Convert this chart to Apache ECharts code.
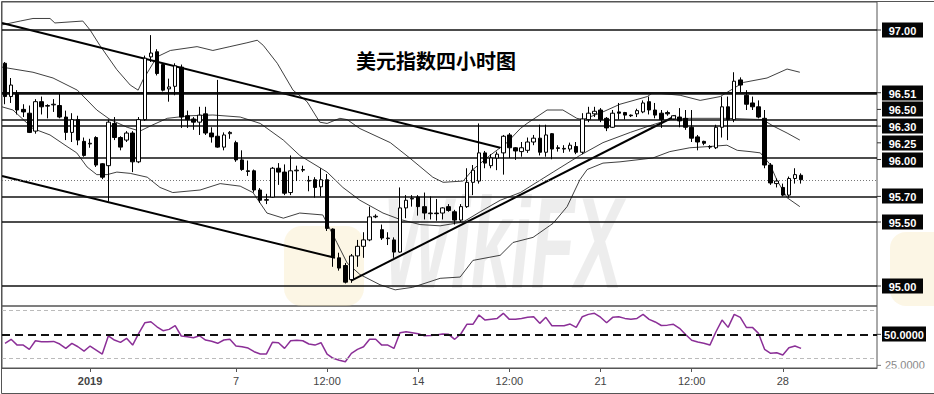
<!DOCTYPE html>
<html><head><meta charset="utf-8">
<script src="https://cdn.jsdelivr.net/npm/echarts@6/dist/echarts.min.js"></script>
<style>html,body{margin:0;padding:0;background:#fff;}#c{width:934px;height:394px;}</style>
</head><body><div id="c"></div>
<script>
// ---------- data ----------
const title = '美元指数四小时图';
const opens  = [96.74,96.48,96.50,96.38,96.35,96.21,96.44,96.405,96.415,96.41,96.32,96.20,96.30,96.13,96.11,96.16,95.955,95.94,96.27,96.16,96.14,96.195,95.97,96.30,96.79,96.83,96.73,96.54,96.56,96.71,96.33,96.305,96.28,96.345,96.195,96.17,96.085,96.19,96.12,95.985,95.90,95.90,95.75,95.67,95.695,95.92,95.89,95.73,95.90,95.905,95.82,95.83,95.775,95.83,95.445,95.22,95.16,95.05,95.235,95.31,95.36,95.54,95.44,95.37,95.36,95.265,95.61,95.68,95.695,95.62,95.565,95.57,95.57,95.62,95.58,95.515,95.62,95.81,95.82,96.04,95.94,96.00,96.04,96.18,96.08,96.05,96.06,96.125,96.155,96.045,96.19,96.08,96.07,96.07,96.09,96.045,96.30,96.345,96.375,96.31,96.24,96.36,96.355,96.335,96.345,96.36,96.44,96.375,96.35,96.355,96.305,96.32,96.31,96.24,96.165,96.13,96.09,96.08,96.24,96.40,96.30,96.61,96.49,96.43,96.40,96.31,95.945,95.80,95.77,95.71,95.84,95.865];
const closes = [96.48,96.57,96.375,96.36,96.20,96.44,96.40,96.41,96.42,96.32,96.20,96.30,96.14,96.02,96.115,95.945,95.85,96.28,96.16,96.085,96.195,95.97,96.30,96.78,96.82,96.66,96.53,96.555,96.72,96.32,96.30,96.28,96.335,96.195,96.165,96.085,96.18,96.20,95.985,95.91,95.895,95.75,95.67,95.675,95.92,95.89,95.725,95.90,95.905,95.91,95.825,95.77,95.83,95.45,95.23,95.14,95.03,95.235,95.31,95.36,95.54,95.545,95.375,95.375,95.265,95.61,95.67,95.685,95.62,95.57,95.57,95.565,95.61,95.59,95.515,95.62,95.81,95.905,96.04,95.96,96.00,96.03,96.17,96.08,96.055,96.08,96.125,96.155,96.045,96.18,96.07,96.075,96.075,96.10,96.045,96.305,96.35,96.365,96.30,96.235,96.35,96.35,96.335,96.33,96.37,96.43,96.375,96.335,96.30,96.345,96.33,96.29,96.24,96.155,96.125,96.115,96.085,96.24,96.40,96.30,96.60,96.57,96.42,96.40,96.32,95.945,95.805,95.82,95.71,95.84,95.87,95.83];
const lows   = [96.42,96.43,96.34,96.32,96.195,96.19,96.34,96.31,96.36,96.31,96.14,96.125,96.10,96.01,96.08,95.93,95.835,95.66,96.14,96.06,96.125,95.89,95.96,96.29,96.75,96.645,96.52,96.44,96.49,96.235,96.235,96.22,96.18,96.18,96.12,96.08,96.06,96.15,95.97,95.90,95.86,95.73,95.65,95.64,95.69,95.79,95.71,95.71,95.82,95.89,95.74,95.69,95.70,95.43,95.15,95.12,95.02,95.025,95.15,95.22,95.35,95.53,95.36,95.32,95.22,95.26,95.53,95.62,95.55,95.52,95.52,95.51,95.52,95.58,95.48,95.50,95.61,95.71,95.80,95.92,95.92,95.905,95.87,96.00,95.985,96.01,96.04,96.10,96.02,96.01,95.99,96.05,96.04,96.05,96.03,96.03,96.28,96.32,96.28,96.21,96.235,96.30,96.30,96.32,96.32,96.35,96.34,96.31,96.235,96.33,96.30,96.24,96.22,96.125,96.06,96.10,96.07,96.07,96.16,96.14,96.28,96.515,96.375,96.375,96.31,95.92,95.79,95.77,95.70,95.69,95.80,95.80];
const highs  = [96.75,96.625,96.53,96.42,96.41,96.46,96.48,96.42,96.46,96.50,96.37,96.35,96.33,96.16,96.15,96.17,95.96,96.30,96.32,96.17,96.21,96.21,96.32,96.80,96.96,96.85,96.74,96.62,96.74,96.73,96.37,96.32,96.40,96.40,96.24,96.61,96.20,96.21,96.135,96.06,95.98,95.91,95.765,95.72,95.93,95.96,95.95,96.02,95.94,95.94,95.86,95.85,95.92,95.875,95.45,95.26,95.18,95.25,95.36,95.42,95.62,95.56,95.48,95.42,95.38,95.77,95.71,95.71,95.71,95.73,95.70,95.68,95.615,95.64,95.595,95.64,95.92,95.945,96.27,96.055,96.03,96.05,96.18,96.195,96.085,96.125,96.16,96.18,96.26,96.26,96.195,96.10,96.10,96.12,96.125,96.35,96.40,96.40,96.39,96.32,96.375,96.43,96.36,96.34,96.385,96.45,96.48,96.43,96.375,96.37,96.335,96.39,96.375,96.375,96.18,96.135,96.10,96.26,96.48,96.48,96.67,96.63,96.53,96.48,96.45,96.375,95.96,95.84,95.80,95.855,95.92,95.88];
const rsi = [42.4,45.8,40.9,40.9,37.3,44.6,43.7,43.8,44.0,41.8,38.1,42.4,39.5,35.8,40.1,36.7,33.3,48.6,45.2,43.2,46.6,40.9,50.8,59.8,60.7,56.4,53.1,54.2,57.3,48.6,48.0,47.1,48.8,45.2,44.1,42.4,45.2,45.8,40.1,39.5,38.4,35.3,33.3,33.3,43.2,42.9,38.1,44.6,45.0,44.6,41.8,40.9,42.9,33.3,29.7,28.0,26.8,33.9,37.3,39.5,45.8,45.8,40.9,40.9,38.1,51.4,52.2,51.4,50.5,48.8,49.0,49.4,50.3,50.0,45.8,50.3,58.5,58.5,66.4,62.1,62.8,63.5,67.8,62.7,62.7,63.5,64.4,64.9,59.3,64.4,57.3,57.3,57.3,58.7,55.9,64.9,66.9,67.8,64.5,59.8,64.4,64.9,63.5,62.7,63.5,66.9,62.7,60.5,57.5,57.8,58.5,55.1,49.9,45.0,43.5,42.5,40.9,52.2,62.1,55.9,66.9,64.4,55.9,55.9,50.8,37.3,33.9,34.4,32.5,38.6,40.1,38.1];
// Bollinger bands as [candle index, price]
const upperBand = [[-0.5,97.04],[2.5,97.07],[4.6,97.09],[7.4,97.09],[8.2,97.055],[12.8,97.07],[14.0,97.00],[15.6,96.88],[18.4,96.69],[20.6,96.57],[21.9,96.53],[22.7,96.61],[25.0,96.79],[27.2,96.84],[31.6,96.87],[34.2,96.84],[37.0,96.87],[39.8,96.90],[41.5,96.92],[42.5,96.88],[44.8,96.74],[47.4,96.53],[49.7,96.44],[51.8,96.28],[53.0,96.27],[55.1,96.31],[56.3,96.30],[58.4,96.23],[63.4,96.12],[66.6,96.00],[70.4,95.85],[72.1,95.81],[75.4,95.82],[77.0,95.91],[79.8,96.02],[82.6,96.12],[84.8,96.23],[85.9,96.27],[89.2,96.375],[91.8,96.375],[94.1,96.31],[95.1,96.30],[98.4,96.36],[101.2,96.42],[105.7,96.48],[106.6,96.51],[111.1,96.49],[114.4,96.45],[117.7,96.48],[121.5,96.59],[125.4,96.625],[128.7,96.695],[130.8,96.67]];
const middleBand = [[-0.5,96.71],[4.6,96.67],[7.9,96.625],[11.9,96.53],[15.1,96.375],[17.3,96.30],[20.1,96.24],[22.2,96.21],[23.9,96.25],[26.7,96.31],[30.4,96.33],[34.2,96.336],[38.7,96.32],[42.0,96.27],[45.8,96.14],[48.5,96.02],[53.0,95.89],[55.6,95.77],[58.4,95.67],[62.2,95.57],[65.0,95.52],[68.3,95.48],[71.6,95.47],[75.4,95.50],[78.2,95.58],[81.5,95.67],[84.8,95.73],[90.2,95.89],[94.6,96.02],[98.4,96.12],[102.9,96.20],[106.6,96.26],[109.4,96.30],[112.7,96.31],[118.8,96.31],[124.7,96.30],[126.4,96.25],[128.7,96.195],[130.8,96.14]];
const lowerBand = [[-0.5,96.40],[1.3,96.375],[3.0,96.30],[4.6,96.23],[7.4,96.18],[10.2,96.09],[11.8,96.04],[13.5,95.93],[15.1,95.87],[16.8,95.87],[18.4,95.89],[20.6,95.88],[23.4,95.85],[25.5,95.77],[27.6,95.73],[32.1,95.75],[35.4,95.80],[38.7,95.78],[40.8,95.73],[43.1,95.57],[45.8,95.53],[48.5,95.57],[52.3,95.555],[54.6,95.34],[56.3,95.18],[58.4,95.09],[61.7,95.01],[64.2,94.97],[67.1,94.99],[71.6,95.06],[74.9,95.07],[77.0,95.20],[81.5,95.24],[83.6,95.34],[86.9,95.38],[90.2,95.49],[92.5,95.62],[94.6,95.83],[95.8,95.91],[98.4,95.96],[101.2,95.97],[106.6,96.00],[109.4,96.05],[112.7,96.08],[116.0,96.09],[118.8,96.10],[120.5,96.06],[122.6,96.05],[124.3,96.04],[125.9,95.95],[127.0,95.83],[128.7,95.69],[130.8,95.62]];
// trend lines: end points [candle index, price]
const resistanceLine = [[-0.5,97.055],[81.5,96.08]];
const lowerChannelLine = [[-0.5,95.86],[54.3,95.22]];
const supportLine = [[56.9,95.04],[110.4,96.33]];
// horizontal levels & labels
const levelLabels = ['97.00','96.51','96.50','96.30','96.25','96.00','95.70','95.50','95.00'];
const levelValues = [97.00,96.51,96.50,96.30,96.25,96.00,95.70,95.50,95.00];
const lastPrice = 95.83;
const rsiLevels = [70, 50, 30];
const rsiLabelMain = '50.0000';
const rsiLabelLow = '25.0000';
const xTickIdx  = [14,38,53,68,83,98,113,128];
const xTickText = ['2019','7','12:00','14','12:00','21','12:00','28'];
const SLOTS = 144;

// ---------- chart ----------
const cats = Array.from({length: SLOTS}, (_, i) => String(i));
const candleData = cats.map((_, i) => i < opens.length ? [opens[i], closes[i], lows[i], highs[i]] : '-');
const rsiData = cats.map((_, i) => i < rsi.length ? rsi[i] : '-');
const tickSet = new Set(xTickIdx);

const el = document.getElementById('c');
const chart = echarts.init(el, null, {renderer: 'svg'});
const thin = (data) => ({type: 'line', xAxisIndex: 1, yAxisIndex: 0, data, symbol: 'none', silent: true,
  lineStyle: {color: '#2a2a2a', width: 0.9}, z: 3});
const thick = (data) => ({type: 'line', xAxisIndex: 1, yAxisIndex: 0, data, symbol: 'none', silent: true,
  lineStyle: {color: '#000', width: 2}, z: 4});

const option = {
  animation: false,
  backgroundColor: '#fff',
  grid: [
    {left: 2, top: 2, width: 875, height: 304, show: true, borderColor: '#555', borderWidth: 1},
    {left: 2, top: 306, width: 875, height: 62, show: true, borderColor: '#555', borderWidth: 1}
  ],
  xAxis: [
    {type: 'category', gridIndex: 0, data: cats, show: false},
    {type: 'value', gridIndex: 0, min: -0.5, max: SLOTS - 0.5, show: false},
    {type: 'category', gridIndex: 1, data: cats,
      axisLine: {show: true, lineStyle: {color: '#555'}},
      axisTick: {show: true, alignWithLabel: true, length: 4, interval: (i) => tickSet.has(i), lineStyle: {color: '#555'}},
      axisLabel: {interval: (i) => tickSet.has(i), margin: 7, color: '#444', fontSize: 11,
        fontFamily: '"Liberation Sans", Arial, sans-serif',
        formatter: (v, i) => { const k = xTickIdx.indexOf(+v); return k === 0 ? '{b|' + xTickText[k] + '}' : (k >= 0 ? xTickText[k] : ''); },
        rich: {b: {fontWeight: 'bold', fontSize: 11, color: '#444', fontFamily: '"Liberation Sans", Arial, sans-serif'}}},
      splitLine: {show: false}}
  ],
  yAxis: [
    {type: 'value', gridIndex: 0, min: 94.84375, max: 97.21875, show: false, splitLine: {show: false}},
    {type: 'value', gridIndex: 1, min: 21.5, max: 74, show: false, splitLine: {show: false}}
  ],
  series: [
    {type: 'candlestick', xAxisIndex: 0, yAxisIndex: 0, data: candleData, barWidth: 4, z: 5,
      itemStyle: {color: '#fff', color0: '#000', borderColor: '#000', borderColor0: '#000', borderWidth: 1},
      markLine: {silent: true, symbol: 'none', label: {show: false}, animation: false,
        data: levelValues.map(v => ({yAxis: v, lineStyle: {color: '#111', width: v === 96.51 ? 2.2 : 1.6, type: 'solid'}}))
          .concat([{yAxis: lastPrice, lineStyle: {color: '#777', width: 1, type: [1, 2]}}])}
    },
    thin(upperBand), thin(middleBand), thin(lowerBand),
    thick(resistanceLine), thick(lowerChannelLine), thick(supportLine),
    {type: 'line', xAxisIndex: 2, yAxisIndex: 1, data: rsiData, symbol: 'none', silent: true,
      lineStyle: {color: '#8b2f97', width: 1.5}, z: 4,
      markLine: {silent: true, symbol: 'none', label: {show: false}, animation: false,
        data: rsiLevels.map(v => v === 50
          ? {yAxis: v, lineStyle: {color: '#111', width: 2, type: [8, 5]}}
          : {yAxis: v, lineStyle: {color: '#bbb', width: 1, type: [4, 3]}})}
    }
  ]
};
chart.setOption(option);

// ---------- right-hand labels & decorations ----------
const FONT = 'bold 11px "Liberation Sans", Arial, sans-serif';
const gfx = [];
function tag(y, text, w) {
  gfx.push({type: 'line', shape: {x1: 877, y1: y, x2: 881, y2: y}, style: {stroke: '#333', lineWidth: 1}, z: 10});
  gfx.push({type: 'rect', shape: {x: 882, y: Math.round(y) - 7.5, width: w, height: 15}, style: {fill: '#050505'}, z: 10});
  gfx.push({type: 'text', style: {text, x: 882 + w / 2, y: Math.round(y) + 0.5, fill: '#fff', font: FONT,
    textAlign: 'center', textVerticalAlign: 'middle'}, z: 11});
}
let prevY = -1e9;
levelValues.forEach((v, k) => {
  const py = chart.convertToPixel({yAxisIndex: 0}, v);
  const y = Math.max(py, prevY + 16.7);
  prevY = y;
  tag(y, levelLabels[k], 41);
});
tag(chart.convertToPixel({yAxisIndex: 1}, 50), rsiLabelMain, 44);
const y25 = chart.convertToPixel({yAxisIndex: 1}, 25) + 1.5;
gfx.push({type: 'line', shape: {x1: 877, y1: y25, x2: 881, y2: y25}, style: {stroke: '#777', lineWidth: 1}, z: 10});
gfx.push({type: 'text', style: {text: rsiLabelLow, x: 885, y: y25, fill: '#888', font: '11px "Liberation Sans", Arial, sans-serif',
  textAlign: 'left', textVerticalAlign: 'middle'}, z: 10});
gfx.push({type: 'rect', shape: {x: 878, y: 368.5, width: 56, height: 9}, style: {fill: '#fff'}, z: 12});
// title
gfx.push({type: 'text', style: {text: title, x: 436, y: 60, fill: '#000',
  font: 'bold 20px "Noto Sans CJK SC", sans-serif', textAlign: 'center', textVerticalAlign: 'middle'}, z: 10});
// faint watermark
gfx.push({type: 'rect', shape: {x: 284, y: 226, width: 80, height: 80, r: 18}, style: {fill: '#f6e6b4', opacity: 0.35}, z: 0});
gfx.push({type: 'rect', shape: {x: 890, y: 232, width: 60, height: 74, r: 16}, style: {fill: '#f6e6b4', opacity: 0.35}, z: 0});
gfx.push({type: 'text', x: 503, y: 243, scaleY: 1.8, style: {text: 'WikiFX', x: 0, y: 0, fill: 'rgba(0,0,0,0.07)',
  font: 'italic bold 72px "Liberation Sans", Arial, sans-serif', textAlign: 'center', textVerticalAlign: 'middle'}, z: 0});
// outer frame
gfx.push({type: 'polyline', shape: {points: [[934, 1.5], [1.5, 1.5], [1.5, 393.5], [934, 393.5]]}, style: {stroke: '#555', lineWidth: 1, fill: null}, z: 10});
chart.setOption({graphic: {elements: gfx}});
</script>
</body></html>
